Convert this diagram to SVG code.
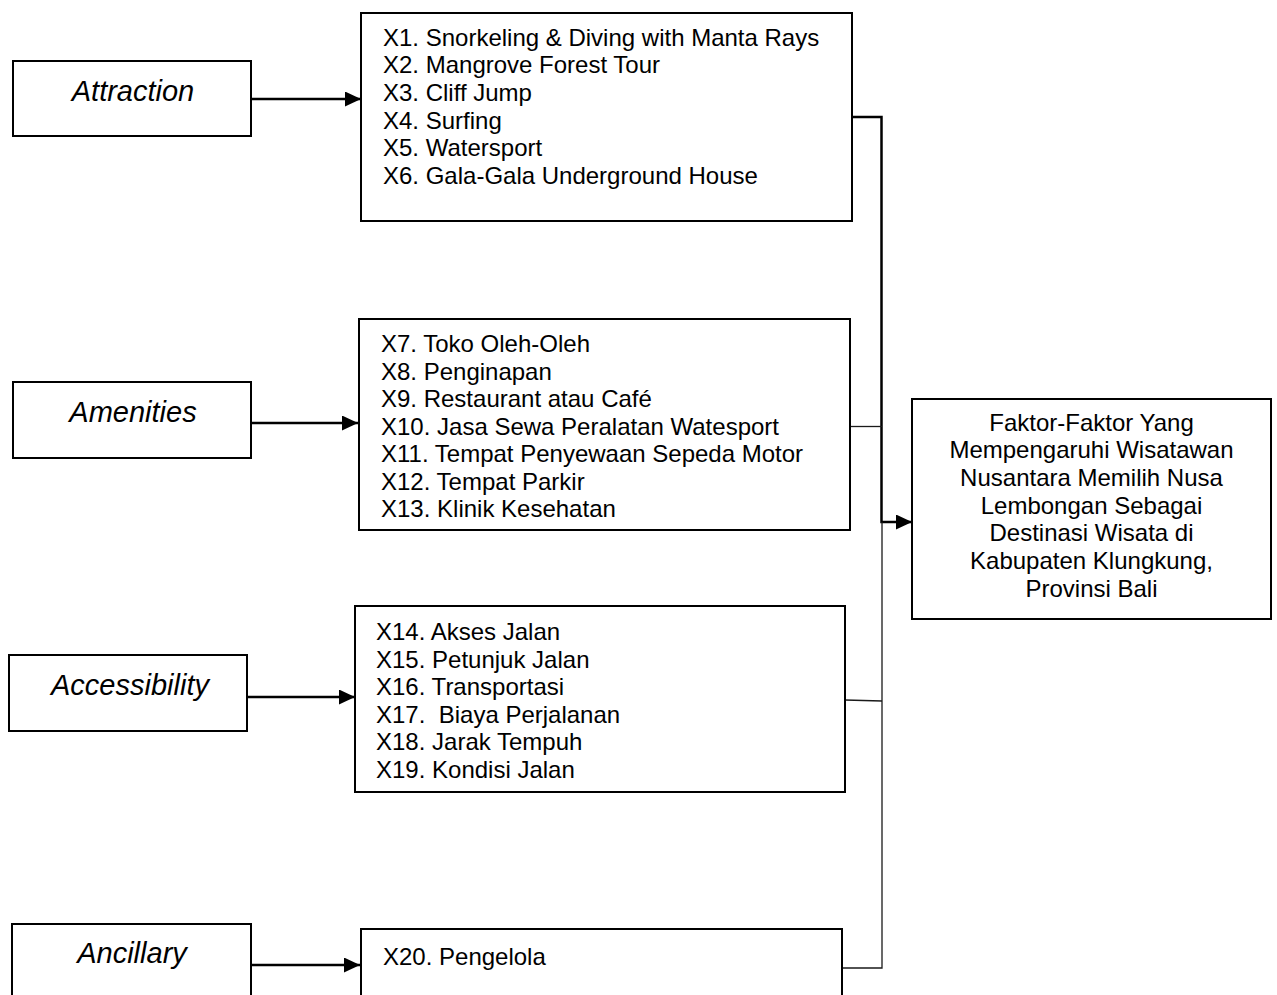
<svg xmlns="http://www.w3.org/2000/svg" width="1277" height="995" viewBox="0 0 1277 995">
<style>
.box{fill:#fff;stroke:#000;stroke-width:2}
.lbl{font-family:"Liberation Sans",Arial,sans-serif;font-size:29px;font-style:italic;fill:#000;text-anchor:middle}
.lst{font-family:"Liberation Sans",Arial,sans-serif;font-size:24px;fill:#000;white-space:pre}
.ctr{font-family:"Liberation Sans",Arial,sans-serif;font-size:24px;fill:#000;text-anchor:middle}
.arr{fill:none;stroke:#000;stroke-width:2.5}
.thin{fill:none;stroke:#1a1a1a;stroke-width:1.3}
</style>
<defs>
<marker id="ah" markerWidth="16" markerHeight="15" refX="16" refY="7.5" orient="auto" markerUnits="userSpaceOnUse">
<path d="M0,0 L16,7.5 L0,15 Z" fill="#000"/>
</marker>
</defs>
<rect width="1277" height="995" fill="#fff"/>

<g id="connectors">
<line class="arr" x1="252" y1="99" x2="361" y2="99" marker-end="url(#ah)"/>
<line class="arr" x1="252" y1="423" x2="358" y2="423" marker-end="url(#ah)"/>
<line class="arr" x1="247" y1="697" x2="355" y2="697" marker-end="url(#ah)"/>
<line class="arr" x1="252" y1="965" x2="360" y2="965" marker-end="url(#ah)"/>
<polyline class="arr" points="852,117 881.5,117 881.5,522 912,522" marker-end="url(#ah)"/>
<line class="thin" x1="850" y1="426.5" x2="882" y2="426.5"/>
<line class="thin" x1="845" y1="700" x2="882" y2="701"/>
<polyline class="thin" points="882,522 882,968 842,968"/>
</g>

<g id="attraction">
<rect class="box" x="13" y="61" width="238" height="75"/>
<text class="lbl" x="133" y="101">Attraction</text>
</g>

<g id="attraction-items">
<rect class="box" x="361" y="13" width="491" height="208"/>
<text class="lst" x="383" y="45.7">X1. Snorkeling &amp; Diving with Manta Rays</text>
<text class="lst" x="383" y="73.3">X2. Mangrove Forest Tour</text>
<text class="lst" x="383" y="100.9">X3. Cliff Jump</text>
<text class="lst" x="383" y="128.5">X4. Surfing</text>
<text class="lst" x="383" y="156.1">X5. Watersport</text>
<text class="lst" x="383" y="183.7">X6. Gala-Gala Underground House</text>
</g>

<g id="amenities">
<rect class="box" x="13" y="382" width="238" height="76"/>
<text class="lbl" x="133" y="422">Amenities</text>
</g>

<g id="amenities-items">
<rect class="box" x="359" y="319" width="491" height="211"/>
<text class="lst" x="381" y="352">X7. Toko Oleh-Oleh</text>
<text class="lst" x="381" y="379.5">X8. Penginapan</text>
<text class="lst" x="381" y="407">X9. Restaurant atau Café</text>
<text class="lst" x="381" y="434.5">X10. Jasa Sewa Peralatan Watesport</text>
<text class="lst" x="381" y="462">X11. Tempat Penyewaan Sepeda Motor</text>
<text class="lst" x="381" y="489.5">X12. Tempat Parkir</text>
<text class="lst" x="381" y="517">X13. Klinik Kesehatan</text>
</g>

<g id="accessibility">
<rect class="box" x="9" y="655" width="238" height="76"/>
<text class="lbl" x="130" y="695">Accessibility</text>
</g>

<g id="accessibility-items">
<rect class="box" x="355" y="606" width="490" height="186"/>
<text class="lst" x="376" y="640">X14. Akses Jalan</text>
<text class="lst" x="376" y="667.6">X15. Petunjuk Jalan</text>
<text class="lst" x="376" y="695.2">X16. Transportasi</text>
<text class="lst" x="376" y="722.8" xml:space="preserve">X17.  Biaya Perjalanan</text>
<text class="lst" x="376" y="750.4">X18. Jarak Tempuh</text>
<text class="lst" x="376" y="778">X19. Kondisi Jalan</text>
</g>

<g id="ancillary">
<rect class="box" x="12" y="924" width="239" height="90"/>
<text class="lbl" x="132" y="963">Ancillary</text>
</g>

<g id="ancillary-items">
<rect class="box" x="361" y="929" width="481" height="90"/>
<text class="lst" x="383" y="965">X20. Pengelola</text>
</g>

<g id="outcome">
<rect class="box" x="912" y="399" width="359" height="220"/>
<text class="ctr" x="1091.5" y="430.7">Faktor-Faktor Yang</text>
<text class="ctr" x="1091.5" y="458.4">Mempengaruhi Wisatawan</text>
<text class="ctr" x="1091.5" y="486">Nusantara Memilih Nusa</text>
<text class="ctr" x="1091.5" y="513.7">Lembongan Sebagai</text>
<text class="ctr" x="1091.5" y="541.4">Destinasi Wisata di</text>
<text class="ctr" x="1091.5" y="569">Kabupaten Klungkung,</text>
<text class="ctr" x="1091.5" y="596.7">Provinsi Bali</text>
</g>
</svg>
